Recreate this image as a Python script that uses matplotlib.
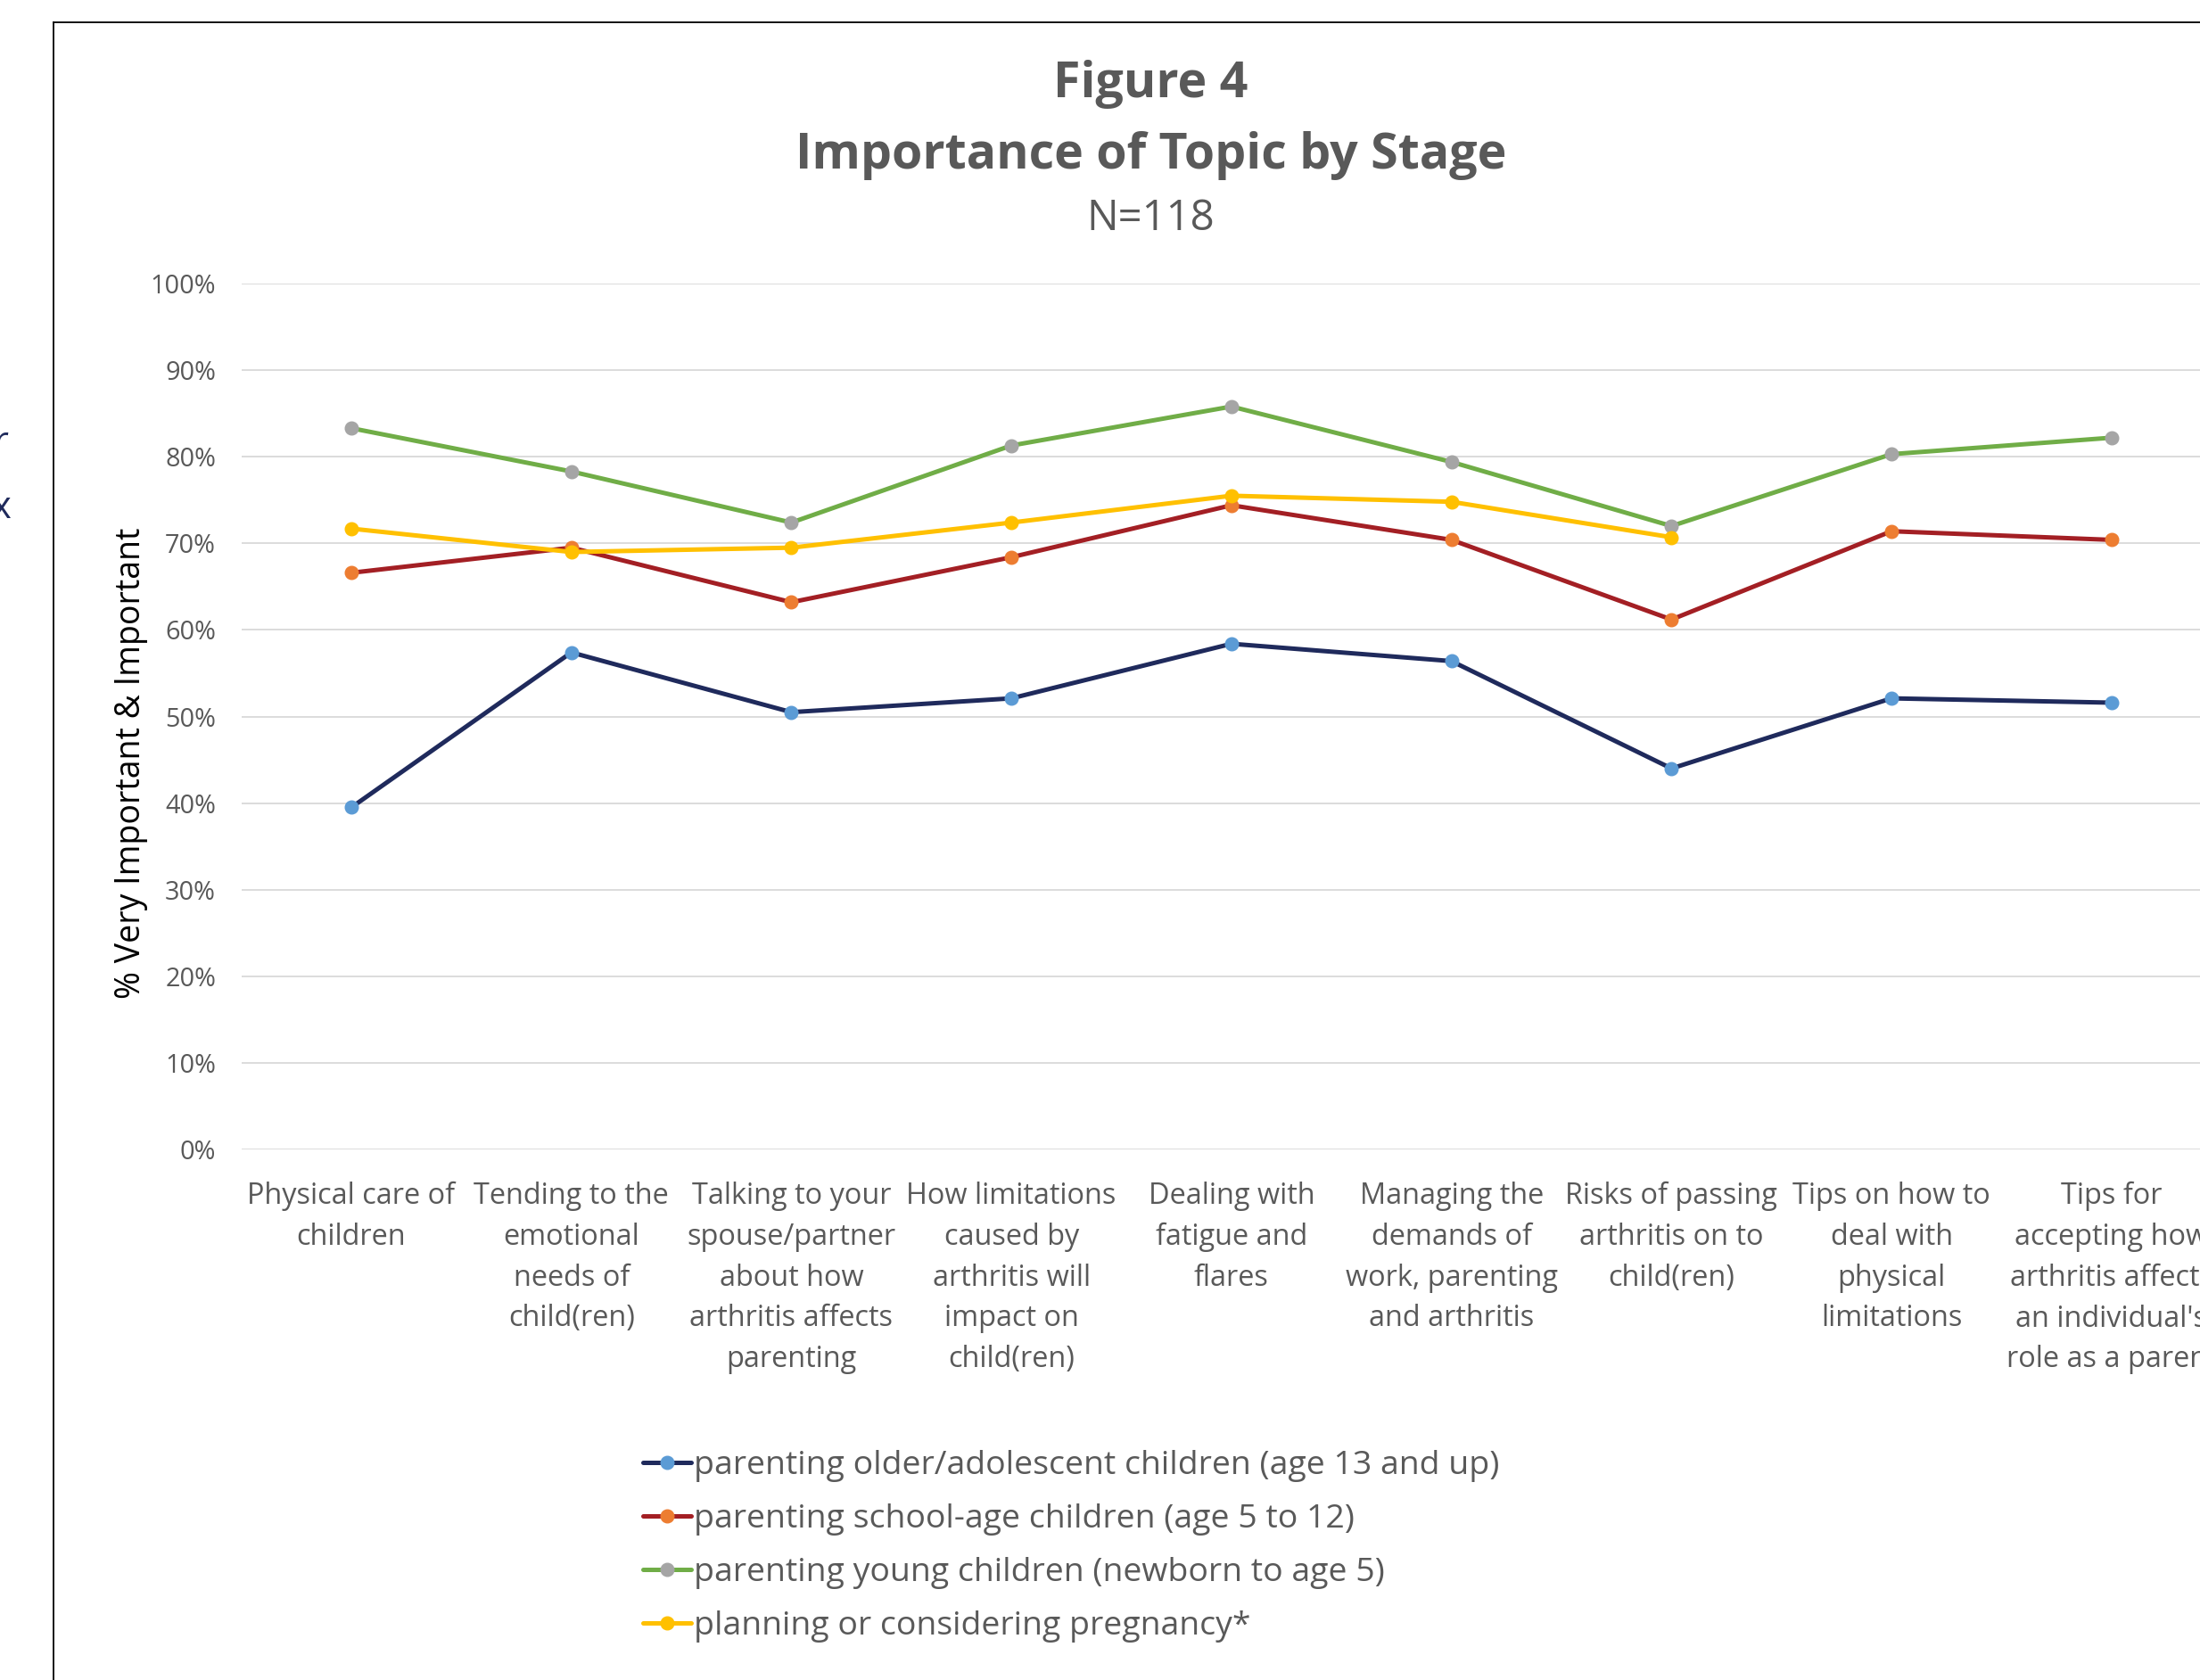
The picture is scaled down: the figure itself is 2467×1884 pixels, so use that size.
import numpy as np
import matplotlib
matplotlib.use("Agg")
import matplotlib.pyplot as plt
from matplotlib.lines import Line2D

# ---------------- data ----------------
categories = [
    "Physical care of\nchildren",
    "Tending to the\nemotional\nneeds of\nchild(ren)",
    "Talking to your\nspouse/partner\nabout how\narthritis affects\nparenting",
    "How limitations\ncaused by\narthritis will\nimpact on\nchild(ren)",
    "Dealing with\nfatigue and\nflares",
    "Managing the\ndemands of\nwork, parenting\nand arthritis",
    "Risks of passing\narthritis on to\nchild(ren)",
    "Tips on how to\ndeal with\nphysical\nlimitations",
    "Tips for\naccepting how\narthritis affects\nan individual's\nrole as a parent",
]
older = [39.5, 57.4, 50.5, 52.1, 58.4, 56.4, 44.0, 52.1, 51.6]
school_age = [66.6, 69.5, 63.2, 68.4, 74.4, 70.4, 61.2, 71.4, 70.4]
young = [83.3, 78.3, 72.4, 81.3, 85.8, 79.4, 72.0, 80.3, 82.2]
pregnancy = [71.7, 69.0, 69.5, 72.4, 75.5, 74.8, 70.7, np.nan, np.nan]
series_names = [
    "parenting older/adolescent children (age 13 and up)",
    "parenting school-age children (age 5 to 12)",
    "parenting young children (newborn to age 5)",
    "planning or considering pregnancy*",
]
y_ticks = [0, 10, 20, 30, 40, 50, 60, 70, 80, 90, 100]

line_colors = ["#1F2A5C", "#A31F24", "#70AD47", "#FFC000"]
marker_colors = ["#5B9BD5", "#ED7D31", "#A5A5A5", "#FFC000"]

FONT = "Open Sans"
TXT = "#595959"
plt.rcParams["font.family"] = [FONT, "DejaVu Sans"]

W, H = 2467, 1884
fig = plt.figure(figsize=(W / 100, H / 100), dpi=100)
fig.patch.set_facecolor("white")

ax = fig.add_axes([0.1097, 0.3158, 0.9001, 0.5154])
x = np.arange(len(categories))
for vals, lc, mc, name in zip([older, school_age, young, pregnancy],
                              line_colors, marker_colors, series_names):
    ax.plot(x, np.array(vals) / 100.0, color=lc, lw=3.6, marker="o",
            markersize=10.5, markerfacecolor=mc, markeredgecolor=mc,
            label=name, solid_capstyle="round", zorder=3)

ax.set_xlim(-0.5, len(categories) - 0.5)
ax.set_ylim(0, 1)
ax.set_yticks([v / 100 for v in y_ticks])
ax.set_yticklabels([f"{v}%" for v in y_ticks], color=TXT, fontsize=20.8)
ax.set_xticks(x)
ax.set_xticklabels(categories, color=TXT, fontsize=23.4, linespacing=1.51,
                   ha="center", va="top")
ax.tick_params(axis="both", length=0)
ax.tick_params(axis="x", pad=26)
ax.tick_params(axis="y", pad=20.5)
ax.grid(axis="y", color="#D9D9D9", lw=1.3)
ax.set_axisbelow(True)
for s in ax.spines.values():
    s.set_visible(False)
ax.set_ylabel("% Very Important & Important", fontsize=27, color="black",
              labelpad=2)
ax.yaxis.label.set_y(0.4465)

# titles
fig.text(0.523, 1 - 60 / 1197, "Figure 4", ha="center", va="center",
         fontsize=40, fontweight="bold", color=TXT)
fig.text(0.523, 1 - 111 / 1197, "Importance of Topic by Stage", ha="center",
         va="center", fontsize=40, fontweight="bold", color=TXT)
fig.text(0.523, 1 - 156 / 1197, "N=118", ha="center", va="center",
         fontsize=34, color=TXT)

# legend
handles, labels = ax.get_legend_handles_labels()
leg = fig.legend(handles, labels, loc="upper left",
                 bbox_to_anchor=(458 / 1568, 1 - 1033 / 1197),
                 frameon=False, fontsize=26.9, handlelength=1.45,
                 handletextpad=0.08, labelspacing=0.64, borderaxespad=0,
                 borderpad=0)
for t in leg.get_texts():
    t.set_color(TXT)

# outer frame of the chart (cropped on right and bottom)
fig.add_artist(Line2D([38 / 1568, 38 / 1568], [0, 1 - 16 / 1197],
                      transform=fig.transFigure, color="black", lw=1.3))
fig.add_artist(Line2D([38 / 1568, 1.0], [1 - 16 / 1197, 1 - 16 / 1197],
                      transform=fig.transFigure, color="black", lw=1.3))

# fragments of neighbouring text visible at the left edge
fig.text(-0.003, 1 - 316 / 1197, "r", ha="left", va="center", fontsize=30,
         color="#1F2A5C")
fig.text(-0.004, 1 - 362 / 1197, "x", ha="left", va="center", fontsize=30,
         color="#1F2A5C")

fig.savefig("out.png", dpi=100, facecolor="white")
